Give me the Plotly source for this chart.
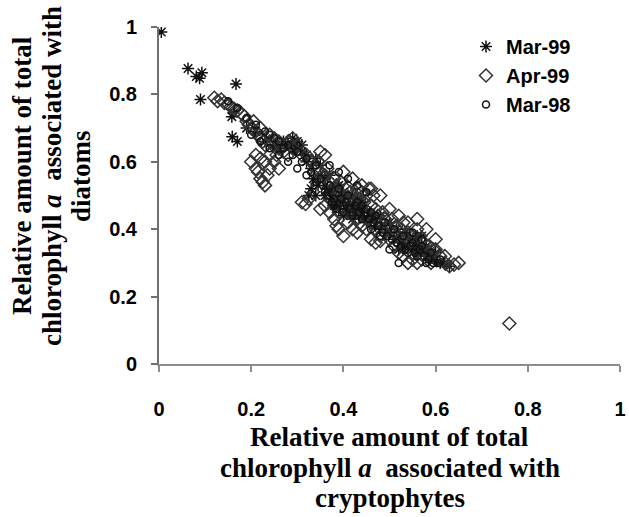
import plotly.graph_objects as go

# ---- data ----
mar99_x = [0.005, 0.063, 0.081, 0.088, 0.093, 0.090, 0.167, 0.158, 0.162, 0.159, 0.170,
           0.19, 0.21, 0.23, 0.25, 0.27, 0.29, 0.30, 0.31, 0.32, 0.33, 0.34, 0.35, 0.36, 0.33,
           0.34, 0.36, 0.37, 0.38, 0.39, 0.40, 0.41, 0.42, 0.43, 0.44, 0.38, 0.40, 0.42, 0.45,
           0.46, 0.47, 0.48, 0.50, 0.51, 0.52, 0.53, 0.54, 0.55, 0.56, 0.57, 0.58, 0.59, 0.60,
           0.61, 0.62, 0.63, 0.55, 0.57, 0.52, 0.49, 0.44, 0.39, 0.37, 0.35,
           0.26, 0.28, 0.30, 0.32, 0.29, 0.31, 0.365, 0.375, 0.385, 0.395, 0.405, 0.415, 0.425,
           0.435, 0.445, 0.455, 0.39, 0.41, 0.43, 0.40, 0.42, 0.44, 0.46, 0.38, 0.36, 0.53, 0.545,
           0.555, 0.565, 0.575, 0.585, 0.595, 0.535, 0.525, 0.515, 0.56, 0.58, 0.60, 0.50, 0.48,
           0.47, 0.335, 0.345, 0.325]
mar99_y = [0.985, 0.877, 0.853, 0.848, 0.864, 0.785, 0.831, 0.734, 0.745, 0.674, 0.660,
           0.70, 0.69, 0.66, 0.65, 0.66, 0.64, 0.66, 0.63, 0.60, 0.58, 0.61, 0.56, 0.55, 0.52,
           0.50, 0.53, 0.51, 0.50, 0.49, 0.48, 0.50, 0.47, 0.46, 0.45, 0.47, 0.44, 0.43, 0.42,
           0.43, 0.41, 0.40, 0.39, 0.37, 0.38, 0.36, 0.35, 0.34, 0.33, 0.34, 0.32, 0.33, 0.31,
           0.30, 0.30, 0.29, 0.37, 0.38, 0.34, 0.41, 0.48, 0.53, 0.56, 0.59,
           0.64, 0.65, 0.64, 0.62, 0.67, 0.65, 0.52, 0.49, 0.48, 0.50, 0.46, 0.47, 0.45,
           0.44, 0.43, 0.44, 0.46, 0.46, 0.49, 0.51, 0.50, 0.47, 0.45, 0.52, 0.50, 0.34, 0.37,
           0.36, 0.35, 0.33, 0.31, 0.32, 0.39, 0.36, 0.40, 0.38, 0.35, 0.33, 0.42, 0.44,
           0.43, 0.55, 0.53, 0.50]

apr99_x = [0.120, 0.127, 0.135, 0.142, 0.150, 0.156, 0.163, 0.170, 0.178, 0.185, 0.19, 0.195,
           0.20, 0.205, 0.21, 0.215, 0.22, 0.225, 0.23, 0.24, 0.25, 0.26, 0.27, 0.28, 0.29, 0.30,
           0.26, 0.28,
           0.20, 0.21, 0.215, 0.22, 0.225, 0.23, 0.235, 0.24, 0.21, 0.22, 0.23, 0.24, 0.25, 0.26, 0.255,
           0.31, 0.318, 0.325,
           0.32, 0.33, 0.34, 0.345, 0.35, 0.36, 0.365, 0.37, 0.375, 0.38, 0.385, 0.39, 0.395, 0.40,
           0.405, 0.41, 0.415, 0.42, 0.425, 0.43, 0.435, 0.44, 0.445, 0.45, 0.455, 0.46, 0.465, 0.47,
           0.475, 0.48, 0.485, 0.49, 0.495, 0.50, 0.505, 0.51, 0.515, 0.52, 0.525, 0.53, 0.535, 0.54,
           0.545, 0.55, 0.555, 0.56, 0.565, 0.57, 0.575, 0.58, 0.585, 0.59, 0.595, 0.60, 0.61, 0.62,
           0.63, 0.64, 0.65,
           0.38, 0.385, 0.39, 0.40, 0.41, 0.37, 0.36, 0.35, 0.42, 0.43, 0.44, 0.45, 0.46, 0.47, 0.48,
           0.50, 0.52, 0.53, 0.54, 0.55, 0.56,
           0.40, 0.42, 0.44, 0.46, 0.48, 0.50, 0.52, 0.54, 0.56, 0.58, 0.60, 0.35, 0.36,
           0.37, 0.38, 0.39, 0.40, 0.41, 0.42, 0.43, 0.44, 0.45, 0.46, 0.47, 0.48, 0.49, 0.51,
           0.53, 0.55, 0.57, 0.59, 0.27, 0.29, 0.31, 0.24, 0.22, 0.60, 0.62,
           0.76]
apr99_y = [0.790, 0.780, 0.785, 0.775, 0.770, 0.764, 0.757, 0.752, 0.745, 0.735, 0.72, 0.71,
           0.70, 0.72, 0.69, 0.68, 0.67, 0.66, 0.65, 0.66, 0.67, 0.66, 0.65, 0.66, 0.67, 0.65,
           0.64, 0.62,
           0.60, 0.58, 0.57, 0.55, 0.54, 0.53, 0.56, 0.58, 0.62, 0.61, 0.60, 0.62, 0.60, 0.58, 0.62,
           0.48, 0.475, 0.49,
           0.62, 0.60, 0.58, 0.60, 0.57, 0.56, 0.58, 0.54, 0.52, 0.55, 0.53, 0.51, 0.54, 0.50,
           0.52, 0.49, 0.51, 0.48, 0.50, 0.52, 0.49, 0.51, 0.48, 0.50, 0.52, 0.47, 0.50, 0.46,
           0.44, 0.42, 0.45, 0.43, 0.41, 0.40, 0.43, 0.39, 0.41, 0.38, 0.40, 0.42, 0.37, 0.39,
           0.36, 0.38, 0.35, 0.40, 0.37, 0.34, 0.36, 0.33, 0.35, 0.32, 0.34, 0.31, 0.32, 0.30,
           0.29, 0.295, 0.30,
           0.43, 0.41, 0.40, 0.38, 0.42, 0.45, 0.47, 0.46, 0.40, 0.39, 0.41, 0.40, 0.37, 0.36, 0.365,
           0.37, 0.33, 0.32, 0.30, 0.31, 0.30,
           0.57, 0.55, 0.53, 0.52, 0.50, 0.46, 0.44, 0.42, 0.43, 0.40, 0.37, 0.63, 0.62,
           0.49, 0.47, 0.45, 0.46, 0.45, 0.44, 0.43, 0.46, 0.44, 0.42, 0.40, 0.38, 0.39, 0.35,
           0.35, 0.33, 0.31, 0.30, 0.63, 0.64, 0.62, 0.68, 0.70, 0.34, 0.32,
           0.12]

mar98_x = [0.15, 0.17, 0.19, 0.21, 0.23, 0.25, 0.27, 0.29, 0.31, 0.33, 0.35, 0.37, 0.39, 0.41,
           0.43, 0.45, 0.47, 0.49, 0.51, 0.53, 0.55, 0.57, 0.59, 0.61, 0.52, 0.50, 0.48, 0.46,
           0.44, 0.42, 0.40, 0.38, 0.36, 0.34, 0.32, 0.30, 0.28, 0.26, 0.24, 0.22, 0.20, 0.54,
           0.56, 0.58, 0.45, 0.43, 0.41, 0.39, 0.37, 0.55, 0.57,
           0.365, 0.375, 0.385, 0.395, 0.405, 0.415, 0.425, 0.435, 0.445, 0.455, 0.465, 0.475,
           0.485, 0.495, 0.505, 0.515, 0.525, 0.535, 0.545, 0.555, 0.565, 0.575, 0.585, 0.595,
           0.605, 0.40, 0.42, 0.38, 0.44, 0.46, 0.30, 0.28, 0.26, 0.24, 0.32, 0.34]
mar98_y = [0.78, 0.76, 0.73, 0.71, 0.69, 0.67, 0.64, 0.62, 0.60, 0.57, 0.55, 0.53, 0.52, 0.50,
           0.48, 0.46, 0.44, 0.42, 0.40, 0.38, 0.36, 0.35, 0.33, 0.31, 0.30, 0.34, 0.38, 0.40,
           0.43, 0.45, 0.47, 0.49, 0.51, 0.54, 0.56, 0.58, 0.60, 0.62, 0.64, 0.66, 0.68, 0.33,
           0.32, 0.30, 0.51, 0.53, 0.55, 0.57, 0.59, 0.39, 0.37,
           0.50, 0.48, 0.46, 0.49, 0.48, 0.46, 0.47, 0.45, 0.44, 0.43, 0.42, 0.41,
           0.39, 0.38, 0.37, 0.36, 0.35, 0.34, 0.35, 0.33, 0.34, 0.32, 0.31, 0.30,
           0.30, 0.45, 0.44, 0.47, 0.47, 0.45, 0.63, 0.65, 0.66, 0.68, 0.61, 0.59]

series_names = ["Mar-99", "Apr-99", "Mar-98"]
tick_vals = [0, 0.2, 0.4, 0.6, 0.8, 1]
tick_text = ["0", "0.2", "0.4", "0.6", "0.8", "1"]
x_title_lines = ["Relative amount of total", "chlorophyll <i>a</i>  associated with", "cryptophytes"]
y_title_lines = ["Relative amount of total", "chlorophyll <i>a</i>  associated with", "diatoms"]

fig = go.Figure()
fig.add_trace(go.Scatter(
    x=mar99_x, y=mar99_y, mode="markers", name=series_names[0],
    marker=dict(symbol="asterisk-open", size=10, color="#111111",
                line=dict(color="#111111", width=1.5))))
fig.add_trace(go.Scatter(
    x=apr99_x, y=apr99_y, mode="markers", name=series_names[1],
    marker=dict(symbol="diamond-open", size=10, color="#333333",
                line=dict(color="#333333", width=1.5))))
fig.add_trace(go.Scatter(
    x=mar98_x, y=mar98_y, mode="markers", name=series_names[2],
    marker=dict(symbol="circle-open", size=7, color="#111111",
                line=dict(color="#111111", width=1.5))))

tickfont = dict(family="Liberation Sans, Arial, sans-serif", size=20, color="black", weight="bold")
titlefont = dict(family="Liberation Serif, Times New Roman, serif", size=27, color="black", weight="bold")

PLOT_L, PLOT_R, PLOT_T, PLOT_B = 159, 620, 27, 364
PW, PH = PLOT_R - PLOT_L, PLOT_B - PLOT_T

annotations = []
# x-axis title, one line each (tight line spacing as in the reference)
for line, ypx in zip(x_title_lines, [437, 468, 498]):
    annotations.append(dict(text=line, xref="paper", yref="paper", x=0.5,
                            y=(PLOT_B - ypx) / PH, xanchor="center", yanchor="middle",
                            showarrow=False, font=titlefont))
# y-axis title, rotated
for line, xpx in zip(y_title_lines, [22, 52, 81]):
    annotations.append(dict(text=line, xref="paper", yref="paper", x=(xpx - PLOT_L) / PW,
                            y=(PLOT_B - 176) / PH, xanchor="center", yanchor="middle",
                            textangle=-90, showarrow=False, font=titlefont))

fig.update_layout(
    width=629, height=517,
    margin=dict(l=PLOT_L, r=629 - PLOT_R, t=PLOT_T, b=517 - PLOT_B),
    paper_bgcolor="white", plot_bgcolor="white",
    showlegend=True,
    legend=dict(x=(466 - PLOT_L) / PW, y=1.0, xanchor="left", yanchor="top",
                font=dict(family="Liberation Sans, Arial, sans-serif", size=20,
                          color="black", weight="bold"),
                itemwidth=30, bgcolor="rgba(0,0,0,0)", tracegroupgap=4),
    annotations=annotations,
)
fig.update_xaxes(
    range=[0, 1], tickvals=tick_vals, ticktext=tick_text,
    showgrid=False, zeroline=False, showline=True, linecolor="#8c8c8c", linewidth=2,
    ticks="outside", ticklen=6, tickcolor="#8c8c8c", tickwidth=1.5,
    tickfont=tickfont, ticklabelstandoff=20,
    automargin=False,
)
fig.update_yaxes(
    range=[0, 1], tickvals=tick_vals, ticktext=tick_text,
    showgrid=False, zeroline=False, showline=True, linecolor="#707070", linewidth=2,
    ticks="outside", ticklen=6, tickcolor="#707070", tickwidth=1.5,
    tickfont=tickfont, ticklabelstandoff=10,
    automargin=False,
)

fig.write_html("out.html")
